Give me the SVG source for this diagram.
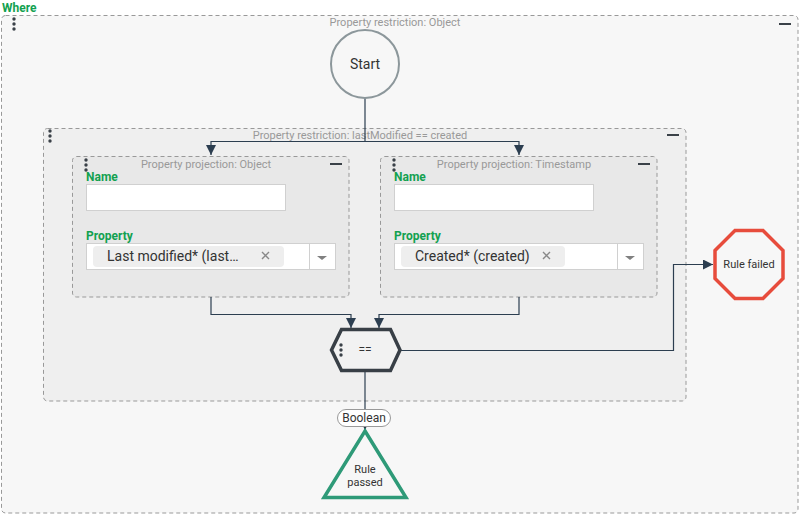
<svg xmlns="http://www.w3.org/2000/svg" width="804" height="518" viewBox="0 0 804 518">
<defs>
<style>
text{font-family:Roboto,"Liberation Sans",sans-serif}
.cont{stroke:#999;stroke-width:1;stroke-dasharray:4 3}
.title{font-size:11px;fill:#999;text-anchor:middle}
.lbl{font-size:12px;font-weight:bold;fill:#12a150}
.dot{fill:#3a4148}
.bar{stroke:#3a4148;stroke-width:2}
.conn{fill:none;stroke:#2c3e50;stroke-width:1.2}
.inp{fill:#fff;stroke:#d0d0d0;stroke-width:1}
.chip{fill:#eeeeee}
.chiptext{font-size:14px;fill:#333}
.x{stroke:#888;stroke-width:1.4}
</style>
<marker id="arr" viewBox="0 0 10 10" refX="10" refY="5" markerWidth="10" markerHeight="10" markerUnits="userSpaceOnUse" orient="auto">
<path d="M0,0 L10,5 L0,10 z" fill="#2c3e50"/>
</marker>
<g id="dots"><circle cx="0" cy="0" r="1.7"/><circle cx="0" cy="5" r="1.7"/><circle cx="0" cy="10" r="1.7"/></g>
</defs>

<rect width="804" height="518" fill="#ffffff"/>
<text x="2" y="11.5" class="lbl" style="font-size:12px">Where</text>

<g id="outer">
<rect x="1.5" y="15.5" width="796.5" height="497.5" rx="4" fill="#f7f7f7" class="cont"/>
<use href="#dots" x="14" y="19" class="dot"/>
<line x1="779" y1="24" x2="791" y2="24" class="bar"/>
<text x="395" y="26" class="title">Property restriction: Object</text>
</g>

<g id="restriction">
<rect x="43.5" y="128.5" width="642.5" height="272.5" rx="4" fill="#efefef" class="cont"/>
<use href="#dots" x="50" y="131" class="dot"/>
<line x1="667" y1="135" x2="679" y2="135" class="bar"/>
<text x="360" y="138.5" class="title">Property restriction: lastModified == created</text>
</g>

<g id="proj1">
<rect x="72.5" y="156.5" width="276.5" height="140.5" rx="4" fill="#e8e8e8" class="cont"/>
<use href="#dots" x="86" y="160" class="dot"/>
<line x1="330" y1="164" x2="342" y2="164" class="bar"/>
<text x="206" y="168" class="title">Property projection: Object</text>
<text x="86" y="181" class="lbl">Name</text>
<rect x="86.5" y="184.5" width="199" height="26" class="inp"/>
<text x="86" y="240" class="lbl">Property</text>
<rect x="86.5" y="243.5" width="249" height="26" class="inp"/>
<rect x="93" y="246" width="191" height="21" rx="4" class="chip"/>
<text x="107" y="261" class="chiptext">Last modified* (last…</text>
<path d="M262,252 l7,7 M269,252 l-7,7" class="x"/>
<line x1="309.5" y1="244" x2="309.5" y2="269" stroke="#d0d0d0"/>
<path d="M317,256 h10 l-5,4 z" fill="#808080"/>
</g>

<g id="proj2">
<rect x="380.5" y="156.5" width="276.5" height="140.5" rx="4" fill="#e8e8e8" class="cont"/>
<use href="#dots" x="394" y="160" class="dot"/>
<line x1="638" y1="164" x2="650" y2="164" class="bar"/>
<text x="514" y="168" class="title">Property projection: Timestamp</text>
<text x="394" y="181" class="lbl">Name</text>
<rect x="394.5" y="184.5" width="199" height="26" class="inp"/>
<text x="394" y="240" class="lbl">Property</text>
<rect x="394.5" y="243.5" width="249" height="26" class="inp"/>
<rect x="401" y="246" width="164" height="21" rx="4" class="chip"/>
<text x="415" y="261" class="chiptext">Created* (created)</text>
<path d="M543,252 l7,7 M550,252 l-7,7" class="x"/>
<line x1="617.5" y1="244" x2="617.5" y2="269" stroke="#d0d0d0"/>
<path d="M625,256 h10 l-5,4 z" fill="#808080"/>
</g>

<g id="connectors">
<path d="M365,98 V141.5 H211 V155" class="conn" marker-end="url(#arr)"/>
<path d="M365,141.5 H519 V155" class="conn" marker-end="url(#arr)"/>
<path d="M211,297 V314.5 H351 V328" class="conn" marker-end="url(#arr)"/>
<path d="M519,297 V314.5 H379 V328" class="conn" marker-end="url(#arr)"/>
<path d="M400,350.5 H673.5 V264.5 H713" class="conn" marker-end="url(#arr)"/>
<path d="M365,372 V409" class="conn"/>
<path d="M365,426 V430" class="conn" marker-end="url(#arr)"/>
</g>

<g id="start">
<circle cx="365" cy="64" r="34" fill="#f7f7f7" stroke="#8c979b" stroke-width="2"/>
<text x="365" y="69" text-anchor="middle" font-size="14" fill="#333">Start</text>
</g>

<g id="eq">
<path d="M331.5,350 L341.5,329.5 H390.5 L400,350 L390.5,370.5 H341.5 Z" fill="#f2f2f2" stroke="#383f46" stroke-width="3.5" stroke-linejoin="miter"/>
<use href="#dots" x="341" y="345" class="dot"/>
<text x="365" y="354" text-anchor="middle" font-size="12" fill="#333">==</text>
</g>

<g id="failed">
<polygon points="735,230.5 763,230.5 783,250.5 783,278.5 763,298.5 735,298.5 715,278.5 715,250.5" fill="#f7f7f7" stroke="#e74c3c" stroke-width="3.5"/>
<text x="749" y="268" text-anchor="middle" font-size="11" fill="#333">Rule failed</text>
</g>

<g id="boolean">
<rect x="337.5" y="409.5" width="53" height="17" rx="8.5" fill="#fff" stroke="#999"/>
<text x="364" y="422" text-anchor="middle" font-size="12" fill="#333">Boolean</text>
</g>

<g id="passed">
<polygon points="365,431 406,497.5 324,497.5" fill="#f7f7f7" stroke="#2e9a78" stroke-width="3.5"/>
<text x="365" y="473" text-anchor="middle" font-size="11" fill="#333">Rule</text>
<text x="365" y="486" text-anchor="middle" font-size="11" fill="#333">passed</text>
</g>
</svg>
